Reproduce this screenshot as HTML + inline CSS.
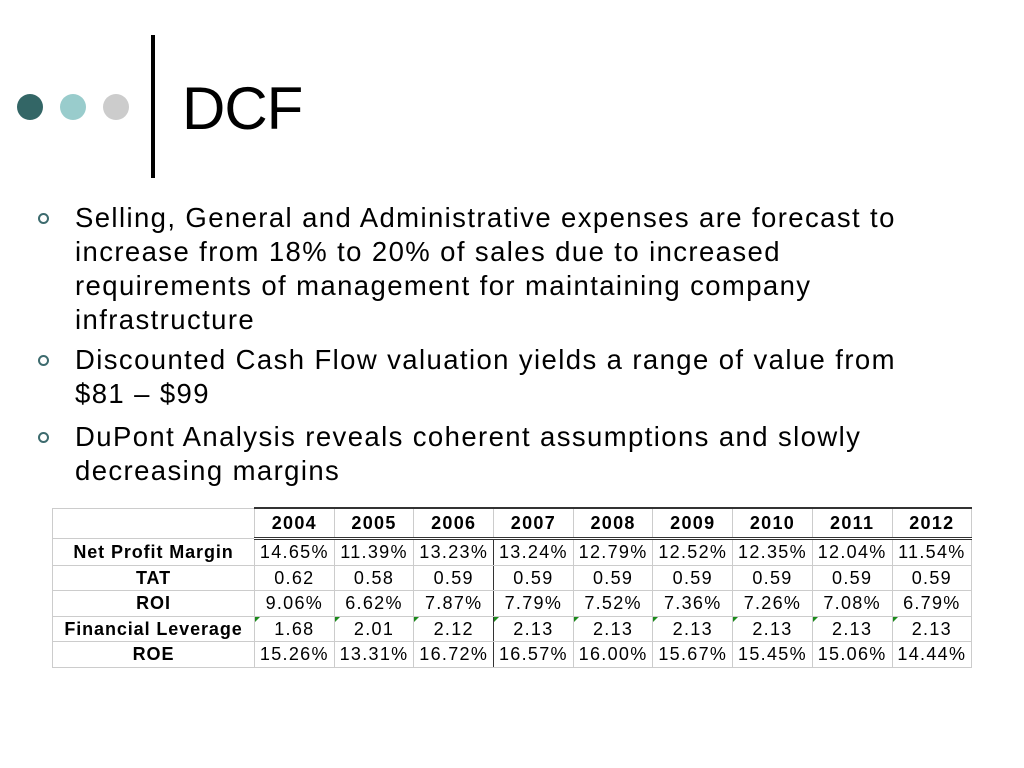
<!DOCTYPE html>
<html><head><meta charset="utf-8"><style>
body{margin:0;width:1024px;height:768px;background:#fff;position:relative;overflow:hidden;font-family:"Liberation Sans",Arial,sans-serif;color:#000}
.dot{position:absolute;width:26px;height:26px;border-radius:50%;top:94px}
.bar{position:absolute;left:151px;top:35px;width:4px;height:143px;background:#000}
h1{position:absolute;left:182px;top:74px;margin:0;font-weight:normal;font-size:60px;line-height:70px;letter-spacing:-1px}
.b{position:absolute;left:75px;font-size:27.5px;line-height:34px;white-space:nowrap;letter-spacing:1.4px}
.ring{position:absolute;left:38px;width:7px;height:7px;border:2.6px solid #3d6b6e;border-radius:50%}
table{position:absolute;left:52px;top:507px;border-collapse:collapse;font-size:18px;letter-spacing:1.3px;table-layout:fixed;width:920px}
td{height:24.5px;padding:0;text-align:center;border:1px solid #ccc;line-height:24px;white-space:nowrap;overflow:visible}
td.l{font-weight:bold;letter-spacing:0.9px}
tr.h td{font-weight:bold;height:28px;border-top:2px solid #333;border-bottom:3px double #333}
tr.h td.l{border-top:1px solid #ccc;border-bottom:1px solid #ccc}
td.k{border-right:1.5px solid #333}
td.g{position:relative}
td.g::before{content:"";position:absolute;left:0;top:0;border-top:5px solid #1a8a1a;border-right:5px solid transparent}
</style></head><body>
<div class="dot" style="left:17px;background:#336666"></div>
<div class="dot" style="left:60px;background:#99cccc"></div>
<div class="dot" style="left:103px;background:#cccccc"></div>
<div class="bar"></div>
<h1>DCF</h1>

<div class="ring" style="top:213px"></div>
<div class="b" style="top:201px">Selling, General and Administrative expenses are forecast to<br>increase from 18% to 20% of sales due to increased<br>requirements of management for maintaining company<br>infrastructure</div>
<div class="ring" style="top:355px"></div>
<div class="b" style="top:343px">Discounted Cash Flow valuation yields a range of value from<br>$81 – $99</div>
<div class="ring" style="top:432px"></div>
<div class="b" style="top:420px">DuPont Analysis reveals coherent assumptions and slowly<br>decreasing margins</div>

<table>
<colgroup><col style="width:202px"><col span="9" style="width:79.7px"></colgroup>
<tr class="h"><td class="l"></td><td>2004</td><td>2005</td><td>2006</td><td>2007</td><td>2008</td><td>2009</td><td>2010</td><td>2011</td><td>2012</td></tr>
<tr><td class="l">Net Profit Margin</td><td>14.65%</td><td>11.39%</td><td class="k">13.23%</td><td>13.24%</td><td>12.79%</td><td>12.52%</td><td>12.35%</td><td>12.04%</td><td>11.54%</td></tr>
<tr><td class="l">TAT</td><td>0.62</td><td>0.58</td><td class="k">0.59</td><td>0.59</td><td>0.59</td><td>0.59</td><td>0.59</td><td>0.59</td><td>0.59</td></tr>
<tr><td class="l">ROI</td><td>9.06%</td><td>6.62%</td><td class="k">7.87%</td><td>7.79%</td><td>7.52%</td><td>7.36%</td><td>7.26%</td><td>7.08%</td><td>6.79%</td></tr>
<tr><td class="l">Financial Leverage</td><td class="g">1.68</td><td class="g">2.01</td><td class="g k">2.12</td><td class="g">2.13</td><td class="g">2.13</td><td class="g">2.13</td><td class="g">2.13</td><td class="g">2.13</td><td class="g">2.13</td></tr>
<tr><td class="l">ROE</td><td>15.26%</td><td>13.31%</td><td class="k">16.72%</td><td>16.57%</td><td>16.00%</td><td>15.67%</td><td>15.45%</td><td>15.06%</td><td>14.44%</td></tr>
</table>
</body></html>
